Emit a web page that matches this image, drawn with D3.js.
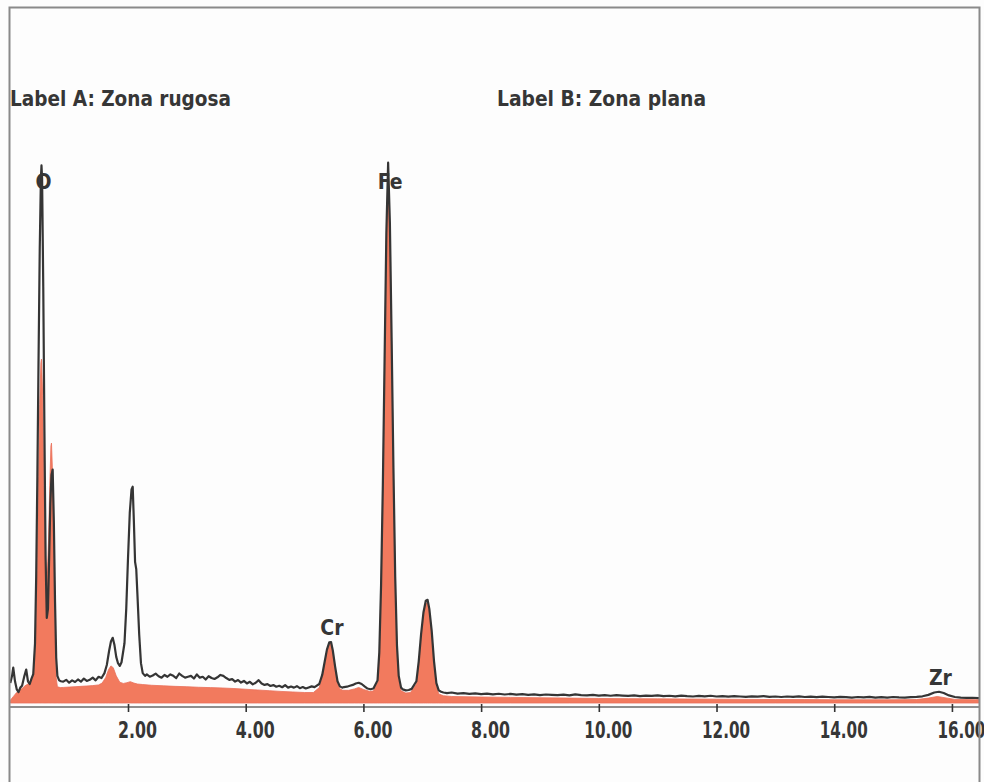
<!DOCTYPE html>
<html>
<head>
<meta charset="utf-8">
<script src="https://cdn.jsdelivr.net/npm/d3@7"></script>
<style>
  html, body { margin: 0; padding: 0; background: #fdfdfd; }
  svg { display: block; }
  .lbl { font-family: "Liberation Sans Narrow", "DejaVu Sans Condensed", "Liberation Sans", sans-serif; font-weight: bold; fill: #363636; }
</style>
</head>
<body>
<svg id="chart" width="984" height="782"></svg>
<script>
// EDS spectrum overlay: two zones of the same sample (energy in keV, counts)
const seriesNames = ["Label A: Zona rugosa", "Label B: Zona plana"];

// Zona rugosa (outline)
const energyA = [
  0.00,0.03,0.05,0.08,0.11,0.14,0.17,0.20,0.24,0.27,0.30,0.33,0.36,0.39,0.42,0.44,0.46,0.48,0.50,0.52,0.53,0.54,0.56,0.58,0.60,0.62,
  0.64,0.66,0.68,0.70,0.72,0.74,0.76,0.78,0.80,0.83,0.86,0.90,0.95,1.00,1.05,1.10,1.15,1.20,1.25,1.30,1.35,1.40,1.45,1.50,1.55,1.60,
  1.64,1.68,1.71,1.74,1.77,1.80,1.83,1.86,1.89,1.94,1.97,2.00,2.03,2.06,2.08,2.10,2.12,2.14,2.16,2.19,2.22,2.25,2.29,2.32,2.37,2.42,
  2.47,2.52,2.57,2.62,2.67,2.72,2.77,2.82,2.87,2.92,2.97,3.02,3.07,3.12,3.17,3.22,3.27,3.32,3.37,3.42,3.47,3.52,3.57,3.62,3.67,3.72,
  3.77,3.82,3.87,3.92,3.97,4.02,4.07,4.12,4.17,4.22,4.27,4.32,4.37,4.42,4.47,4.52,4.57,4.62,4.67,4.72,4.77,4.82,4.87,4.92,4.97,5.02,
  5.07,5.12,5.17,5.25,5.30,5.34,5.38,5.42,5.45,5.48,5.52,5.56,5.60,5.64,5.67,5.72,5.77,5.82,5.87,5.92,5.97,6.02,6.07,6.12,6.17,6.24,
  6.27,6.30,6.33,6.36,6.39,6.42,6.45,6.48,6.51,6.54,6.57,6.60,6.64,6.67,6.72,6.77,6.82,6.90,6.94,6.98,7.02,7.06,7.09,7.12,7.16,7.20,
  7.24,7.28,7.32,7.36,7.42,7.5,7.6,7.7,7.8,7.9,8.0,8.1,8.2,8.3,8.4,8.5,8.6,8.7,8.8,8.9,9.0,9.1,9.2,9.3,9.4,9.5,9.6,9.7,9.8,9.9,
  10.0,10.1,10.2,10.3,10.4,10.5,10.6,10.7,10.8,10.9,11.0,11.1,11.2,11.3,11.4,11.5,11.6,11.7,11.8,11.9,12.0,12.1,12.2,12.3,12.4,12.5,
  12.6,12.7,12.8,12.9,13.0,13.1,13.2,13.3,13.4,13.5,13.6,13.7,13.8,13.9,14.0,14.1,14.2,14.3,14.4,14.5,14.6,14.7,14.8,14.9,15.0,15.1,
  15.2,15.3,15.4,15.5,15.6,15.7,15.78,15.86,15.95,16.05,16.15,16.25,16.35,16.46
];
const countsA = [
  110,150,195,120,75,60,85,95,150,185,120,105,135,160,330,700,1250,1900,2500,2900,2970,2900,2300,1500,800,470,
  520,800,1100,1260,1290,1000,560,250,150,125,120,118,128,112,125,116,130,118,135,122,128,140,125,145,138,165,
  210,290,340,360,320,255,220,205,225,330,520,800,1050,1180,1195,1000,780,740,600,380,220,165,150,158,145,152,
  162,148,140,155,145,158,150,138,163,150,140,145,150,135,158,140,145,130,148,138,133,142,155,150,138,128,
  132,118,127,113,122,108,117,103,112,126,108,100,104,94,99,90,95,87,99,85,91,85,93,82,88,80,
  86,92,88,105,155,225,295,335,337,290,200,120,92,85,88,90,95,100,108,112,105,92,80,76,80,125,
  280,650,1200,1900,2600,2985,2650,2000,1300,700,320,150,85,75,70,72,78,120,230,380,500,565,570,520,400,230,
  110,70,62,58,55,58,52,55,50,53,49,52,48,51,47,50,46,49,45,48,44,47,45,43,46,42,48,44,42,45,
  41,44,40,43,41,39,42,38,41,39,42,38,40,37,41,38,36,39,37,40,36,38,35,38,36,34,
  37,35,38,34,36,33,36,34,37,33,35,32,35,33,31,34,32,30,33,31,34,30,32,30,33,31,
  30,32,34,37,45,58,62,55,42,33,30,28,29,27
];

// Zona plana (filled)
const energyB = [
  0.00,0.05,0.10,0.15,0.20,0.25,0.30,0.35,0.39,0.42,0.44,0.46,0.48,0.50,0.52,0.53,0.55,0.57,0.59,0.61,0.63,0.65,0.67,0.69,0.70,0.72,
  0.74,0.76,0.78,0.80,0.85,0.90,1.00,1.10,1.20,1.30,1.40,1.50,1.56,1.62,1.67,1.71,1.75,1.80,1.86,1.92,1.98,2.04,2.10,2.16,2.25,2.40,
  2.60,2.80,3.00,3.20,3.40,3.60,3.80,4.00,4.20,4.40,4.60,4.80,5.00,5.15,5.25,5.30,5.34,5.38,5.42,5.45,5.48,5.52,5.56,5.60,5.65,5.75,
  5.85,5.92,6.00,6.10,6.17,6.24,6.27,6.30,6.33,6.36,6.39,6.42,6.45,6.48,6.51,6.54,6.57,6.60,6.64,6.72,6.80,6.90,6.94,6.98,7.02,7.06,
  7.09,7.12,7.16,7.20,7.24,7.28,7.36,7.5,8.0,8.5,9.0,9.5,10.0,10.5,11.0,11.5,12.0,12.5,13.0,13.5,14.0,14.5,15.0,15.4,15.6,15.75,
  15.9,16.05,16.46
];
const countsB = [
  15,35,55,70,80,95,105,120,160,320,450,800,1250,1650,1880,1900,1700,1200,880,740,720,900,1200,1420,1436,1250,
  800,350,140,90,85,86,88,90,92,94,96,100,110,140,185,205,195,150,115,108,112,118,110,105,102,98,
  95,92,90,87,85,83,80,76,72,68,64,61,58,58,85,145,215,285,325,330,285,195,110,78,70,70,
  78,86,75,65,66,115,270,640,1180,1880,2560,2900,2600,1970,1280,680,300,130,68,55,58,105,215,365,485,550,
  555,505,385,215,95,50,40,36,33,31,29,27,25,24,23,22,21,20,19,19,18,18,18,19,27,36,
  28,20,18
];

// Element identifications: line energy in keV
const peakNames = ["O", "Cr", "Fe", "Zr"];
const peakEnergies = [0.53, 5.43, 6.42, 15.77];

const tickValues = [2, 4, 6, 8, 10, 12, 14, 16];

const svg = d3.select("#chart");
const W = 984, H = 782;

svg.append("rect").attr("width", W).attr("height", H).attr("fill", "#fdfdfd");

const x = d3.scaleLinear().domain([0, 16.46]).range([10.3, 979]);
const y = d3.scaleLinear().domain([0, 3000]).range([703, 160]);

const dataA = energyA.map((e, i) => [e, countsA[i]]);
const dataB = energyB.map((e, i) => [e, countsB[i]]);

svg.append("clipPath").attr("id", "plot-clip")
  .append("rect").attr("x", 10).attr("y", 0).attr("width", 969).attr("height", 704);

const plot = svg.append("g").attr("clip-path", "url(#plot-clip)");

// Filled spectrum
const area = d3.area().x(d => x(d[0])).y0(y(0)).y1(d => y(d[1]));
plot.append("path").datum(dataB)
  .attr("d", area)
  .attr("fill", "#f27a5e")
  .attr("stroke", "#ea705a")
  .attr("stroke-width", 0.8);

// Outline spectrum
const line = d3.line().x(d => x(d[0])).y(d => y(d[1]));
plot.append("path").datum(dataA)
  .attr("d", line)
  .attr("fill", "none")
  .attr("stroke", "#353535")
  .attr("stroke-width", 2.2)
  .attr("stroke-linejoin", "round");

// Energy axis
const axisG = svg.append("g").attr("transform", "translate(0,707)");
axisG.append("line").attr("x1", 10).attr("x2", 979).attr("y1", 0).attr("y2", 0)
  .attr("stroke", "#8e8e8e").attr("stroke-width", 2);
const axis = d3.axisBottom(x).tickValues(tickValues).tickSize(5).tickFormat(d3.format(".2f"));
axisG.call(axis);
axisG.select(".domain").remove();
axisG.selectAll(".tick line").attr("y1", -3).attr("stroke", "#333").attr("stroke-width", 1.6);
axisG.selectAll(".tick text")
  .attr("class", "lbl")
  .attr("font-size", 23)
  .attr("y", 31)
  .attr("dy", 0)
  .attr("dx", 9)
  .attr("textLength", d => d >= 10 ? 48 : 39)
  .attr("lengthAdjust", "spacingAndGlyphs");

// Series labels
svg.append("text").attr("class", "lbl").attr("x", 10).attr("y", 106)
  .attr("font-size", 22).attr("textLength", 221).attr("lengthAdjust", "spacingAndGlyphs")
  .text(seriesNames[0]);
svg.append("text").attr("class", "lbl").attr("x", 497).attr("y", 106)
  .attr("font-size", 22).attr("textLength", 209).attr("lengthAdjust", "spacingAndGlyphs")
  .text(seriesNames[1]);

// Peak labels above each identified line
peakNames.forEach((name, i) => {
  const e = peakEnergies[i];
  const near = dataA.filter(d => Math.abs(d[0] - e) < 0.08);
  const top = d3.max(near, d => d[1]);
  const yy = Math.max(y(top) - 7, 189);
  svg.append("text").attr("class", "lbl")
    .attr("x", x(e) + 2).attr("y", yy)
    .attr("text-anchor", "middle")
    .attr("font-size", 21)
    .text(name);
});

// Frame
svg.append("path")
  .attr("d", "M9.5,782V7.5H979.5V782")
  .attr("fill", "none").attr("stroke", "#8a8a8a").attr("stroke-width", 2);
</script>
</body>
</html>
